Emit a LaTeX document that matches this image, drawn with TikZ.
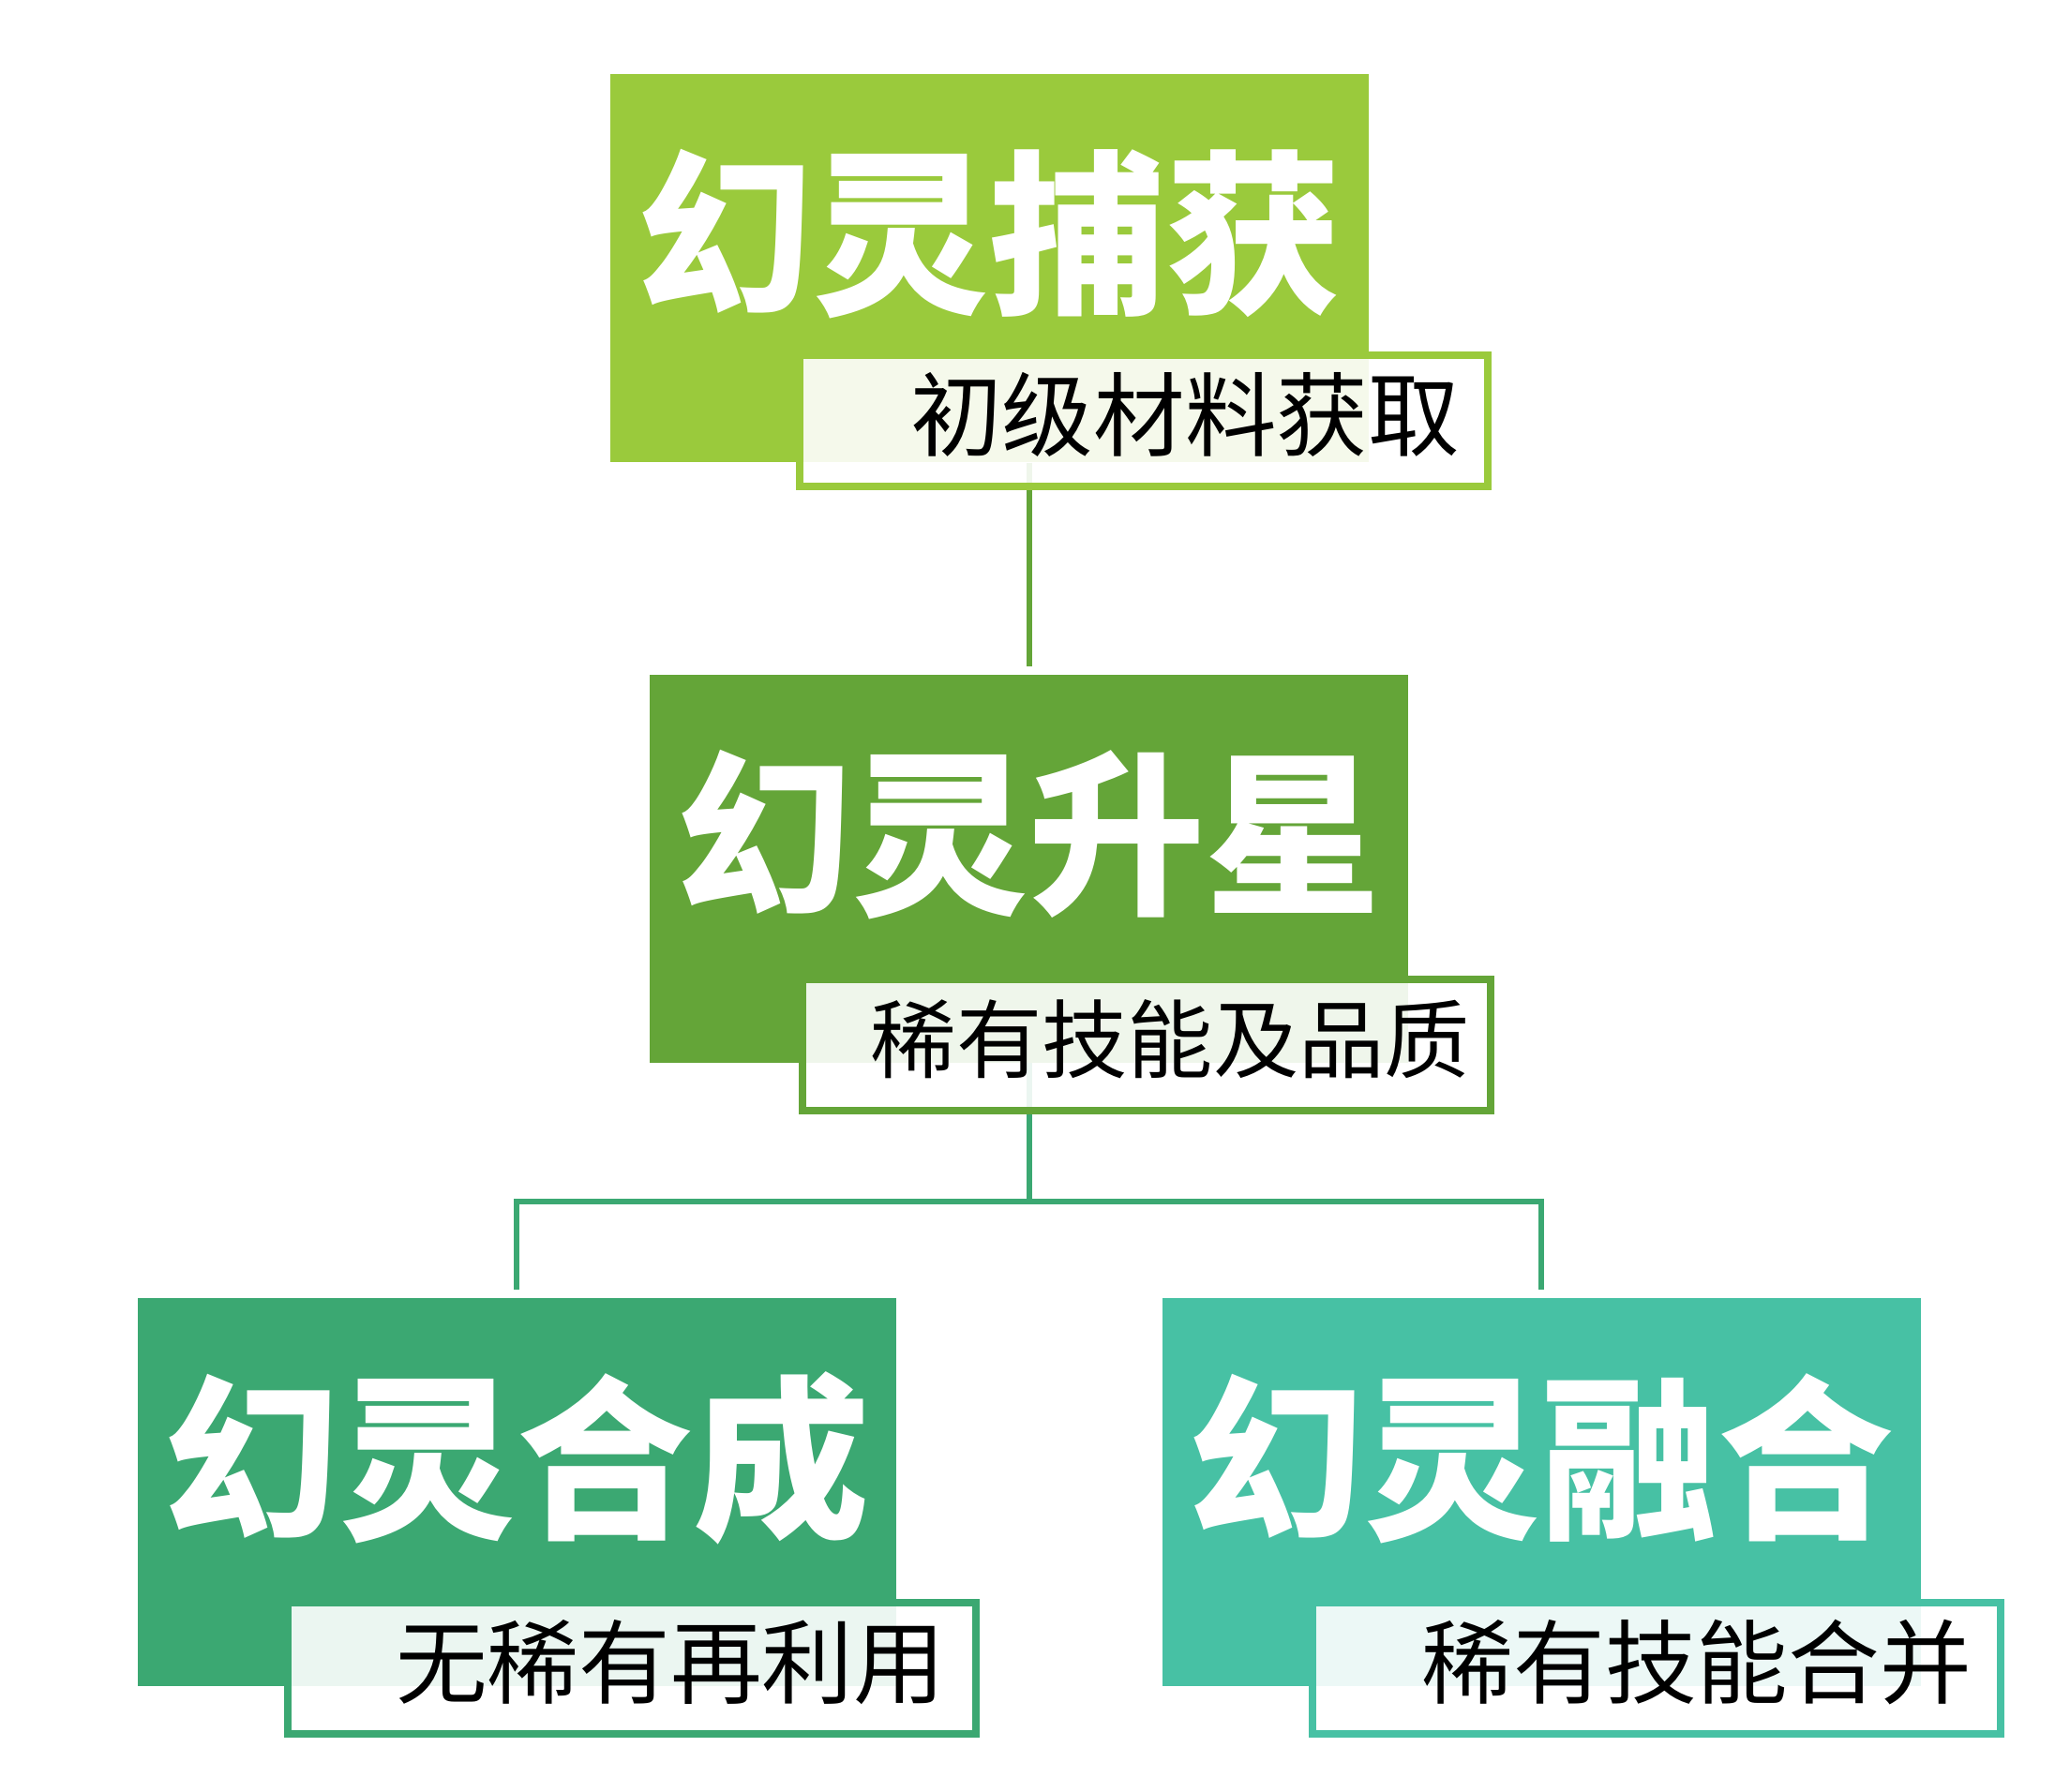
\documentclass[tikz,border=0pt]{standalone}
\usepackage{fontspec}
\newfontfamily\cjk{Noto Sans CJK SC}
\usetikzlibrary{positioning, backgrounds, calc}
\definecolor{capgreen}{HTML}{9ACA3C}
\definecolor{stargreen}{HTML}{64A538}
\definecolor{syngreen}{HTML}{3BA872}
\definecolor{fusegreen}{HTML}{47C1A4}

\begin{document}
\begin{tikzpicture}[font=\cjk,
    mainbox/.style={rectangle, inner sep=0pt, minimum width=8.09cm, minimum height=4.14cm},
    subbox/.style={rectangle, draw=#1, line width=0.08cm, fill=white, fill opacity=0.9, inner sep=0pt, minimum width=7.34cm, minimum height=1.40cm},
    bigtext/.style={white, inner sep=0pt, font=\cjk\bfseries\fontsize{53.5pt}{60pt}\selectfont},
    smalltext/.style={black, inner sep=0pt, font=\cjk\fontsize{27.8pt}{32pt}\selectfont},
    link/.style={line width=0.06cm}]
    \useasboundingbox (0,0) rectangle (21.92,-19.11);

    % main boxes
    \node[mainbox, fill=capgreen]  (capture) at (10.555,-2.86)  {};
    \node[mainbox, fill=stargreen] (star)    at (10.975,-9.265) {};
    \node[mainbox, fill=syngreen]  (synth)   at (5.51,-15.92)   {};
    \node[mainbox, fill=fusegreen] (fuse)    at (16.44,-15.92)  {};

    \node[bigtext] (captureT) at ($(capture)+(0,0.36)$) {幻灵捕获};
    \node[bigtext] (starT)    at ($(star)+(0,0.36)$)    {幻灵升星};
    \node[bigtext] (synthT)   at ($(synth)+(0,0.36)$)   {幻灵合成};
    \node[bigtext] (fuseT)    at ($(fuse)+(0,0.36)$)    {幻灵融合};

    % sub boxes
    \node[subbox=capgreen]  (captureS) at (12.20,-4.485) {};
    \node[subbox=stargreen] (starS)    at (12.23,-11.145) {};
    \node[subbox=syngreen]  (synthS)   at (6.74,-17.80)  {};
    \node[subbox=fusegreen] (fuseS)    at (17.665,-17.80) {};

    \node[smalltext, anchor=east] (captureL) at ($(captureS.east)+(-0.33,0.06)$) {初级材料获取};
    \node[smalltext, anchor=east, font=\cjk\fontsize{26pt}{30pt}\selectfont] (starL) at ($(starS.east)+(-0.25,0.06)$) {稀有技能及品质};
    \node[smalltext, anchor=east] (synthL) at ($(synthS.east)+(-0.36,0.06)$) {无稀有再利用};
    \node[smalltext, anchor=east] (fuseL)  at ($(fuseS.east)+(-0.34,0.06)$)  {稀有技能合并};

    % connectors
    \coordinate (hub) at ($(star.south)+(0,-1.48)$);
    \begin{scope}[on background layer]
        \draw[link, stargreen] (capture.south -| star.north) -- ([yshift=0.08cm]star.north);
        \draw[link, syngreen] (star.south) -- (hub);
        \draw[link, syngreen] (hub) -| ([yshift=0.08cm]synth.north);
        \draw[link, syngreen] (hub) -| ([yshift=0.08cm]fuse.north);
    \end{scope}
\end{tikzpicture}
\end{document}
